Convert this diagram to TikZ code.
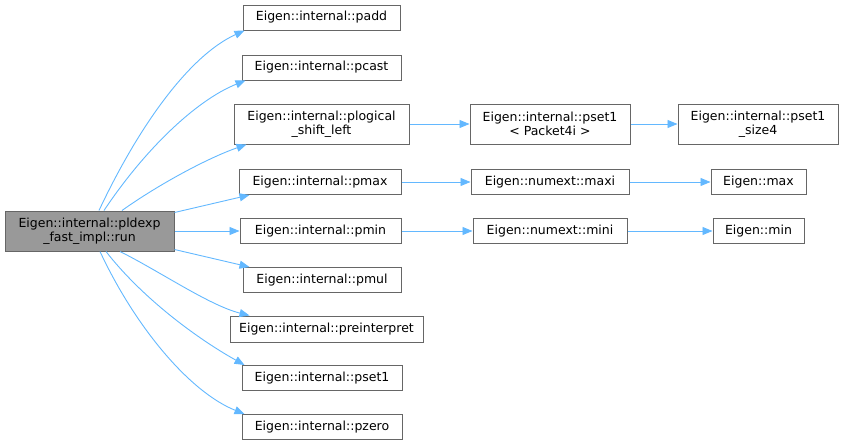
\documentclass[tikz,border=0pt]{standalone}
\usepackage{fontspec}
\setmainfont{DejaVu Sans}
\usetikzlibrary{arrows.meta}
\definecolor{edgeblue}{HTML}{63B8FF}
\definecolor{boxgray}{HTML}{666666}
\definecolor{runfill}{HTML}{999999}
\begin{document}
\begin{tikzpicture}[x=1pt,y=-1pt,
  box/.style={draw=boxgray,line width=1pt,fill=white,inner sep=0pt,align=center,
    font=\fontsize{12.5}{13.5}\selectfont,text=black},
  b1/.style={box,minimum height=25pt},
  b2/.style={box,minimum height=40pt},
  edge/.style={draw=edgeblue,line width=0.9pt,-{Triangle[length=10pt,width=8pt]}}]
\useasboundingbox (0,0) rectangle (844,447);
% nodes
\node[b2,fill=runfill,minimum width=169pt] (run) at (89.5,231) {Eigen::internal::pldexp\\\_fast\_impl::run};
\node[b1,minimum width=157pt] (padd) at (321.5,17.5) {Eigen::internal::padd};
\node[b1,minimum width=159pt] (pcast) at (321.5,67.5) {Eigen::internal::pcast};
\node[b2,minimum width=175pt] (plog) at (321.5,124) {Eigen::internal::plogical\\\_shift\_left};
\node[b1,minimum width=162pt] (pmax) at (320,182) {Eigen::internal::pmax};
\node[b1,minimum width=161pt] (pmin) at (320.5,231) {Eigen::internal::pmin};
\node[b1,minimum width=158pt] (pmul) at (322,280) {Eigen::internal::pmul};
\node[b1,minimum width=193pt,minimum height=26pt] (preint) at (326.5,329) {Eigen::internal::preinterpret};
\node[b1,minimum width=160pt] (pset) at (322,378) {Eigen::internal::pset1};
\node[b1,minimum width=160pt] (pzero) at (322,427) {Eigen::internal::pzero};
\node[b2,minimum width=160pt] (pk4) at (550,124) {Eigen::internal::pset1\\< Packet4i >};
\node[b2,minimum width=160pt] (size4) at (758,124) {Eigen::internal::pset1\\\_size4};
\node[b1,minimum width=158pt] (maxi) at (550,182) {Eigen::numext::maxi};
\node[b1,minimum width=95pt] (max) at (758.5,182) {Eigen::max};
\node[b1,minimum width=154pt] (mini) at (550,231) {Eigen::numext::mini};
\node[b1,minimum width=91pt] (min) at (758.5,231) {Eigen::min};
% edges from run
\draw[edge] ([xshift=9.5pt]run.north) .. controls +(40,-85) and +(-55,25) .. ([xshift=2pt]padd.south west);
\draw[edge] ([xshift=14.5pt]run.north) .. controls +(40,-60) and +(-50,20) .. ([xshift=4pt]pcast.south west);
\draw[edge] ([xshift=32.5pt]run.north) .. controls +(35,-25) and +(-40,14) .. ([xshift=13pt]plog.south west);
\draw[edge] ([yshift=-2pt]run.north east) -- ([xshift=11pt]pmax.south west);
\draw[edge] (run.east) -- (pmin.west);
\draw[edge] ([yshift=2pt]run.south east) -- ([xshift=7pt]pmul.north west);
\draw[edge] ([xshift=30.5pt]run.south) .. controls +(40,20) and +(-40,-10) .. ([xshift=20pt]preint.north west);
\draw[edge] ([xshift=16.5pt]run.south) .. controls +(35,45) and +(-50,-28) .. ([xshift=3pt]pset.north west);
\draw[edge] ([xshift=10.5pt]run.south) .. controls +(35,75) and +(-55,-22) .. ([xshift=3pt]pzero.north west);
% right edges
\draw[edge] (plog.east) -- (pk4.west);
\draw[edge] (pk4.east) -- (size4.west);
\draw[edge] (pmax.east) -- (maxi.west);
\draw[edge] (maxi.east) -- (max.west);
\draw[edge] (pmin.east) -- (mini.west);
\draw[edge] (mini.east) -- (min.west);
\end{tikzpicture}
\end{document}
